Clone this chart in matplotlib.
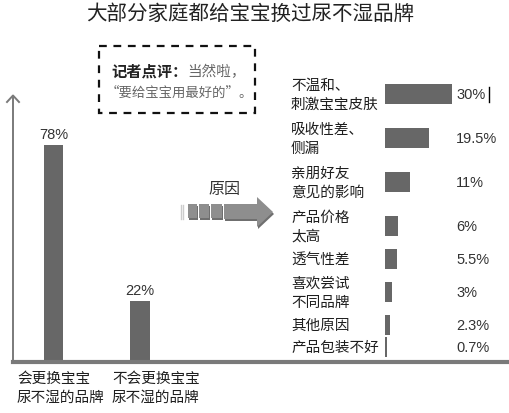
import matplotlib
matplotlib.use("Agg")
import matplotlib.pyplot as plt
from matplotlib.patches import Rectangle, Polygon
from matplotlib import transforms

plt.rcParams['font.family'] = ['Noto Sans CJK SC', 'DejaVu Sans']

# --- 数据 ---
title = "大部分家庭都给宝宝换过尿不湿品牌"
left_labels = ["会更换宝宝\n尿不湿的品牌", "不会更换宝宝\n尿不湿的品牌"]
left_values = [78, 22]

reasons = ["不温和、\n刺激宝宝皮肤", "吸收性差、\n侧漏", "亲朋好友\n意见的影响", "产品价格\n太高",
           "透气性差", "喜欢尝试\n不同品牌", "其他原因", "产品包装不好"]
reason_values = [30, 19.5, 11, 6, 5.5, 3, 2.3, 0.7]
reason_texts = ["30%", "19.5%", "11%", "6%", "5.5%", "3%", "2.3%", "0.7%"]

W, H = 510, 414
fig = plt.figure(figsize=(W / 100, H / 100), dpi=100)

def fbox(x0, y0, x1, y1):
    # 像素坐标(左上为原点) -> figure 比例
    return [x0 / W, 1 - y1 / H, (x1 - x0) / W, (y1 - y0) / H]

bar_c = "#676767"
axis_c = "#7a7a7a"
txt_c = "#1e1e1e"

# --- 左侧柱状图 ---
ax1 = fig.add_axes(fbox(13, 97, 510, 363))
ax1.bar(range(len(left_values)), left_values, width=0.23, color=bar_c)
ax1.set_xlim(-0.468, 5.28)
ax1.set_ylim(0, 95.6)
for s in ["top", "right"]:
    ax1.spines[s].set_visible(False)
ax1.spines["left"].set_color(axis_c)
ax1.spines["left"].set_linewidth(1.4)
ax1.spines["bottom"].set_color(axis_c)
ax1.spines["bottom"].set_linewidth(3)
ax1.set_xticks([])
ax1.set_yticks([])
ax1.patch.set_alpha(0)
for i, v in enumerate(left_values):
    ax1.text(i, v + 1.5, f"{v}%", ha="center", va="bottom", fontsize=10.5,
             family=["Liberation Sans"], color="#333333")
lbl_x = [17, 112]
for x, t in zip(lbl_x, left_labels):
    fig.text(x / W, 1 - 372 / H, t, ha="left", va="top", fontsize=10.5,
             color=txt_c, linespacing=1.45)

# --- 右侧横向条形图 ---
lines = [t.count("\n") + 1 for t in reasons]
pos = [0]
for a, b in zip(lines[:-1], lines[1:]):
    pos.append(pos[-1] + (a + b) * 11)

ax2 = fig.add_axes(fbox(385, 80, 452, 362))
ax2.barh(pos, reason_values, height=20, color=bar_c)
ax2.set_xlim(0, 30)
ax2.set_ylim(267, -15)
ax2.axis("off")
tr = transforms.blended_transform_factory(fig.transFigure, ax2.transData)
for p, t, vt in zip(pos, reasons, reason_texts):
    ax2.text(291 / W, p, t, transform=tr, ha="left", va="center", fontsize=10.5,
             color=txt_c, linespacing=1.45)
    ax2.text(456 / W, p, vt, transform=tr, ha="left", va="center", fontsize=10.5,
             family=["Liberation Sans"], color="#333333")

# --- 装饰层 ---
ov = fig.add_axes([0, 0, 1, 1])
ov.set_xlim(0, W)
ov.set_ylim(H, 0)
ov.axis("off")
ov.patch.set_alpha(0)

# y 轴箭头
ov.plot([7, 13, 19], [103, 96.5, 103], color=axis_c, lw=1.4)
# 光标线
ov.plot([489, 489], [88, 103], color="black", lw=1)

# 标题
ov.text(250, 14, title, ha="center", va="center", fontsize=14.8, color="#222222")

# 记者点评框
ov.add_patch(Rectangle((99, 47), 156, 67, fill=False, ec="#111111", lw=1.6,
                       ls=(0, (3.5, 3))))
t1 = ov.text(111, 72, "记者点评：", ha="left", va="center", fontsize=11,
             color="#222222", fontweight="bold")
ov.annotate("当然啦，", xy=(1, 0.5), xycoords=t1, ha="left", va="center",
            fontsize=10.5, color="#666666")
ov.text(106, 93, "“要给宝宝用最好的”。", ha="left", va="center", fontsize=9.6,
        color="#666666")

# 原因箭头
ov.text(224, 190, "原因", ha="center", va="center", fontsize=11.5, color="#333333")
for x in [181, 183.5]:
    ov.plot([x, x], [206, 220], color="#cccccc", lw=1)
for x0, x1 in [(188, 197), (199, 209), (211, 222)]:
    ov.add_patch(Rectangle((x0 + 1, 207), x1 - x0, 14, fc="#6f6f6f", ec="none"))
    ov.add_patch(Rectangle((x0, 205), x1 - x0, 14, fc="#8e8e8e", ec="none"))
arrow = [(224, 205), (257, 205), (257, 198), (273, 213), (257, 228), (257, 220), (224, 220)]
ov.add_patch(Polygon([(x + 1, y + 2) for x, y in arrow], closed=True, fc="#6f6f6f", ec="none"))
ov.add_patch(Polygon(arrow, closed=True, fc="#8e8e8e", ec="none"))

fig.savefig("out.png", dpi=100)
